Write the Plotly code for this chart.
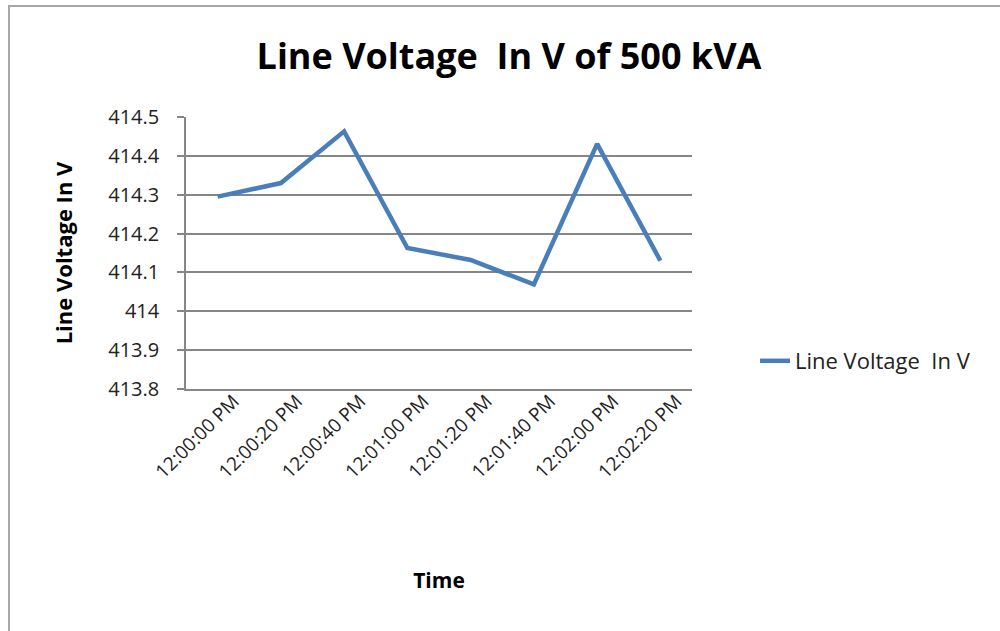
import plotly.graph_objects as go

times = ["12:00:00 PM", "12:00:20 PM", "12:00:40 PM", "12:01:00 PM",
         "12:01:20 PM", "12:01:40 PM", "12:02:00 PM", "12:02:20 PM"]
voltage = [414.295, 414.33, 414.463, 414.163, 414.132, 414.069, 414.431, 414.13]
y_ticks = [413.8, 413.9, 414.0, 414.1, 414.2, 414.3, 414.4, 414.5]
y_tick_text = ["413.8", "413.9", "414", "414.1", "414.2", "414.3", "414.4", "414.5"]

FONT = "Open Sans"

fig = go.Figure()
fig.add_trace(go.Scatter(
    x=times, y=voltage, mode="lines", name="Line Voltage  In V",
    line=dict(color="#4a7ebb", width=4.5),
))

L, R, T, B = 186, 1000 - 692, 117, 631 - 389
pw, ph = 1000 - L - R, 631 - T - B

fig.update_layout(
    width=1000, height=631,
    margin=dict(l=L, r=R, t=T, b=B, autoexpand=False),
    paper_bgcolor="white", plot_bgcolor="white",
    font=dict(family=FONT, color="#222222"),
    title=dict(text="<b>Line Voltage  In V of 500 kVA</b>",
               x=509 / 1000, xanchor="center", y=1 - 56 / 631, yanchor="middle",
               font=dict(family=FONT, size=36, color="#000000")),
    showlegend=True,
    legend=dict(x=(755 - L) / pw, y=(389 - 361) / ph, xanchor="left", yanchor="middle",
                font=dict(family=FONT, size=22, color="#222222"),
                bgcolor="rgba(0,0,0,0)", itemwidth=30),
    xaxis=dict(
        type="category", range=[-0.5, 7.5],
        tickangle=-45, tickfont=dict(family=FONT, size=19, color="#222222"),
        ticklabelshift=16, ticklabelstandoff=-8,
        showgrid=False, showline=True, linecolor="#868686", linewidth=1.5,
        ticks="", zeroline=False,
        title=dict(text="<b>Time</b>", font=dict(family=FONT, size=21, color="#000000"),
                   standoff=90),
    ),
    yaxis=dict(
        range=[413.8, 414.5], tickmode="array", tickvals=y_ticks, ticktext=y_tick_text,
        tickfont=dict(family=FONT, size=20, color="#222222"),
        showgrid=True, gridcolor="#868686", gridwidth=1.5,
        showline=True, linecolor="#868686", linewidth=1.5,
        ticks="outside", ticklen=7, tickcolor="#868686", tickwidth=1.5,
        ticklabelstandoff=14, zeroline=False,
        title=dict(text="<b>Line Voltage In V</b>",
                   font=dict(family=FONT, size=22, color="#000000"), standoff=30),
    ),
    shapes=[dict(type="rect", xref="paper", yref="paper",
                 x0=(9 - L) / pw, x1=(1010 - L) / pw,
                 y0=(389 - 645) / ph, y1=(389 - 6) / ph,
                 line=dict(color="#a6a6a6", width=2), fillcolor="rgba(0,0,0,0)",
                 layer="below")],
)

fig.write_html("out.html", config={"displayModeBar": False},
               post_script="document.body.style.margin='0';")
